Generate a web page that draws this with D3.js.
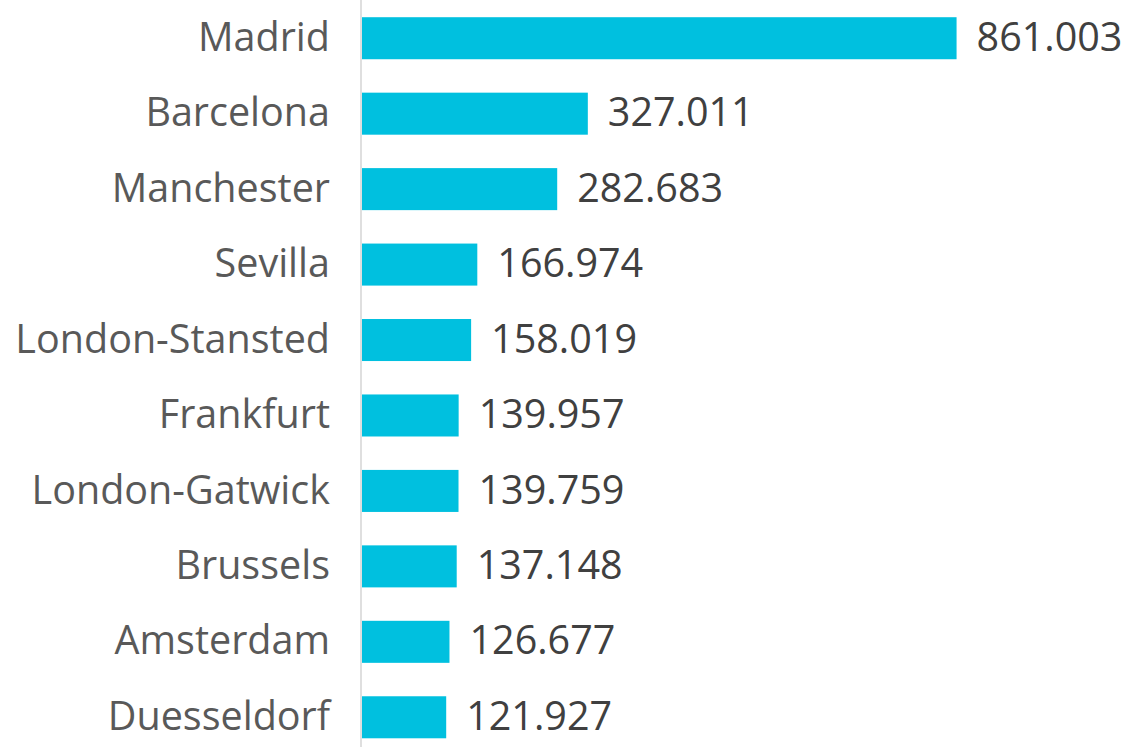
<!DOCTYPE html>
<html>
<head>
<meta charset="utf-8">
<script src="https://cdn.jsdelivr.net/npm/d3@7"></script>
<style>
  html, body { margin: 0; padding: 0; background: #fff; }
  svg { display: block; }
</style>
</head>
<body>
<div id="chart"></div>
<script>
// data
const airports = ['Madrid', 'Barcelona', 'Manchester', 'Sevilla', 'London-Stansted',
                  'Frankfurt', 'London-Gatwick', 'Brussels', 'Amsterdam', 'Duesseldorf'];
const passengers = [861.003, 327.011, 282.683, 166.974, 158.019,
                    139.957, 139.759, 137.148, 126.677, 121.927];
const valueLabels = ['861.003', '327.011', '282.683', '166.974', '158.019',
                     '139.957', '139.759', '137.148', '126.677', '121.927'];

const width = 1127;
const height = 747;
const barColor = '#00c0df';

const rows = airports.map((name, i) => ({name, value: passengers[i], label: valueLabels[i]}));

const svg = d3.select('#chart')
      .append('svg')
      .attr('width', width)
      .attr('height', height)
      .attr('viewBox', [0, 0, width, height]);

// scales
const x = d3.scaleLinear()
      .domain([0, 900])
      .range([362, 983.5]);

const y = d3.scaleBand()
      .domain(airports)
      .range([0.5, 755])
      .paddingInner(0.443)
      .paddingOuter(0.2215);

// bars
svg.append('g')
    .selectAll('rect')
    .data(rows)
    .join('rect')
    .attr('x', x(0))
    .attr('y', d => y(d.name))
    .attr('width', d => x(d.value) - x(0))
    .attr('height', y.bandwidth())
    .attr('fill', barColor);

// axis line
svg.append('line')
    .attr('x1', x(0) - 1)
    .attr('x2', x(0) - 1)
    .attr('y1', 0)
    .attr('y2', height)
    .attr('stroke', '#d4d4d4')
    .attr('stroke-width', 1.5);

// category labels
svg.append('g')
    .selectAll('text')
    .data(rows)
    .join('text')
    .attr('x', 330)
    .attr('y', d => y(d.name) + y.bandwidth() / 2)
    .attr('dy', '0.32em')
    .attr('text-anchor', 'end')
    .attr('font-family', '"Open Sans", sans-serif')
    .attr('font-size', 39.5)
    .attr('fill', '#595959')
    .text(d => d.name);

// value labels
svg.append('g')
    .selectAll('text')
    .data(rows)
    .join('text')
    .attr('x', d => x(d.value) + 20)
    .attr('y', d => y(d.name) + y.bandwidth() / 2)
    .attr('dy', '0.32em')
    .attr('font-family', '"Open Sans", sans-serif')
    .attr('font-size', 39.5)
    .attr('fill', '#404040')
    .text(d => d.label);
</script>
</body>
</html>
